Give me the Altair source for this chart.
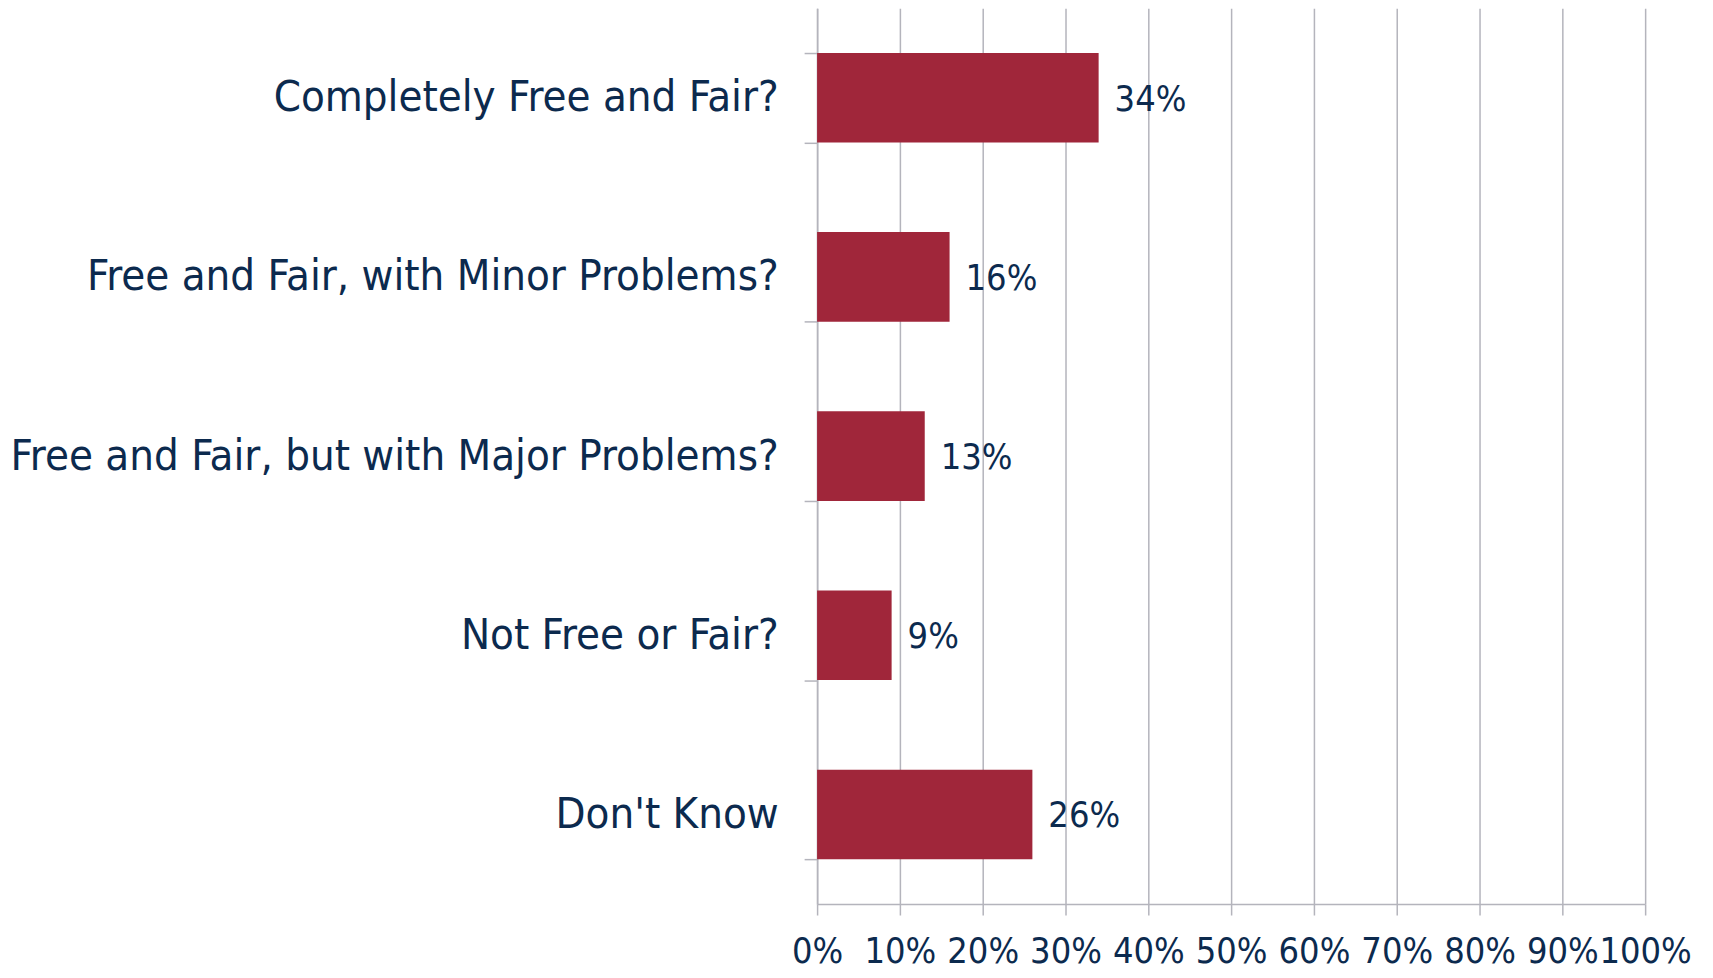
import altair as alt
import pandas as pd

categories = [
    "Completely Free and Fair?",
    "Free and Fair, with Minor Problems?",
    "Free and Fair, but with Major Problems?",
    "Not Free or Fair?",
    "Don't Know",
]
values = [34, 16, 13, 9, 26]
x_ticks = [0, 10, 20, 30, 40, 50, 60, 70, 80, 90, 100]

df = pd.DataFrame({"category": categories, "value": values})
df["label"] = [f"{v}%" for v in values]

FONT = "DejaVu Sans Condensed, Liberation Sans Narrow, Open Sans, sans-serif"
TEXT = "#0C2A4E"
GRID = "#B4B4BC"
BAR = "#A0263A"

y_enc = alt.Y(
    "category:N",
    sort=categories,
    title=None,
    scale=alt.Scale(paddingInner=0.5, paddingOuter=0.25),
    axis=alt.Axis(
        labelFont=FONT, labelFontSize=43.5, labelColor=TEXT,
        labelPadding=26, tickSize=13, tickColor=GRID, tickWidth=1.5,
        domainColor=GRID, domainWidth=1.5, tickBand="extent", grid=False,
        labelLimit=900,
    ),
)
x_enc = alt.X(
    "value:Q",
    title=None,
    scale=alt.Scale(domain=[0, 100], nice=False),
    axis=alt.Axis(
        values=x_ticks, labelExpr="datum.value + '%'",
        labelFont=FONT, labelFontSize=36, labelColor=TEXT,
        labelPadding=20, tickSize=11, tickColor=GRID, tickWidth=1.5,
        domainColor=GRID, domainWidth=1.5, grid=True, gridColor=GRID,
        gridWidth=1.5, labelFlush=False, labelOverlap=False,
    ),
)

bars = alt.Chart(df).mark_bar(color=BAR).encode(x=x_enc, y=y_enc)
labels = alt.Chart(df).mark_text(
    align="left", baseline="middle", dx=16, dy=2, font=FONT, fontSize=36, color=TEXT
).encode(x="value:Q", y=alt.Y("category:N", sort=categories), text="label:N")

chart = (
    alt.layer(bars, labels)
    .properties(
        width=830, height=898,
        autosize=alt.AutoSizeParams(type="none"),
        padding={"left": 811, "top": -1, "right": 60, "bottom": 72},
    )
    .configure_view(stroke=None)
)

chart.save("out.html", embed_options={"renderer": "svg", "actions": False})
